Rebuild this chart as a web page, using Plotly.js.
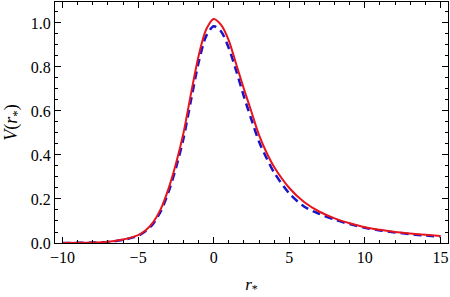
<!DOCTYPE html>
<html>
<head>
<meta charset="utf-8">
<script src="https://cdn.plot.ly/plotly-3.0.1.min.js"></script>
<style>
  html, body { margin: 0; padding: 0; background: #fff; }
  #chart { width: 450px; height: 297px; }
</style>
</head>
<body>
<div id="chart"></div>
<script>
// tortoise coordinate r* and the two potential curves
const rStar = [-10, -9, -8, -7, -6, -5, -4.5, -4, -3.5, -3, -2.5, -2, -1.5, -1, -0.5,
  0, 0.5, 1, 1.5, 2, 2.5, 3, 3.5, 4, 5, 6, 7, 8, 9, 10, 11, 12, 13, 14, 15];

// solid red curve
const vSolid = [0.000, 0.001, 0.002, 0.006, 0.016, 0.036, 0.058, 0.095, 0.155, 0.245, 0.36, 0.50, 0.68, 0.85, 0.97,
  1.018, 0.99, 0.92, 0.81, 0.70, 0.595, 0.49, 0.41, 0.345, 0.25, 0.185, 0.142, 0.112, 0.09, 0.072, 0.06, 0.05, 0.043, 0.037, 0.032];

// dashed blue curve
const vDashed = [0.000, 0.001, 0.002, 0.005, 0.014, 0.033, 0.054, 0.088, 0.145, 0.23, 0.34, 0.475, 0.65, 0.82, 0.94,
  0.985, 0.96, 0.885, 0.78, 0.665, 0.56, 0.46, 0.385, 0.32, 0.225, 0.165, 0.132, 0.106, 0.086, 0.069, 0.057, 0.048, 0.04, 0.034, 0.029];

const xTicks = [-10, -5, 0, 5, 10, 15];
const yTicks = [0, 0.2, 0.4, 0.6, 0.8, 1.0];
const yTickText = ["0.0", "0.2", "0.4", "0.6", "0.8", "1.0"];

const serif = "Liberation Serif, Times New Roman, serif";

const traces = [
  {
    x: rStar,
    y: vDashed,
    mode: "lines",
    line: { color: "rgb(25,20,200)", width: 2.5, dash: "8px,5px", shape: "spline", smoothing: 0.8 },
    hoverinfo: "skip"
  },
  {
    x: rStar,
    y: vSolid,
    mode: "lines",
    line: { color: "rgb(230,20,30)", width: 2, shape: "spline", smoothing: 0.8 },
    hoverinfo: "skip"
  }
];

const axisCommon = {
  showline: true,
  linecolor: "#000",
  linewidth: 1,
  mirror: "allticks",
  ticks: "inside",
  ticklen: 6,
  tickwidth: 1,
  tickcolor: "#000",
  showgrid: false,
  zeroline: false,
  tickfont: { family: serif, size: 16, color: "#000" }
};

const layout = {
  width: 450,
  height: 297,
  margin: { t: 2, r: 2, b: 54, l: 55 },
  paper_bgcolor: "#fff",
  plot_bgcolor: "#fff",
  showlegend: false,
  xaxis: Object.assign({}, axisCommon, {
    range: [-10.5, 15.5],
    tickmode: "array",
    tickvals: xTicks,
    minor: { dtick: 1, ticks: "inside", ticklen: 3, tickcolor: "#000", showgrid: false },
    title: { text: "<i>r</i><sub>*</sub>", font: { family: serif, size: 17, color: "#000" }, standoff: 12 }
  }),
  yaxis: Object.assign({}, axisCommon, {
    range: [0, 1.095],
    tickmode: "array",
    tickvals: yTicks,
    ticktext: yTickText,
    minor: { dtick: 0.05, ticks: "inside", ticklen: 3, tickcolor: "#000", showgrid: false },
    title: { text: "<i>V</i>(<i>r</i><sub>*</sub>)", font: { family: serif, size: 18, color: "#000" }, standoff: 8 }
  })
};

Plotly.newPlot("chart", traces, layout, { staticPlot: true, displayModeBar: false });
</script>
</body>
</html>
